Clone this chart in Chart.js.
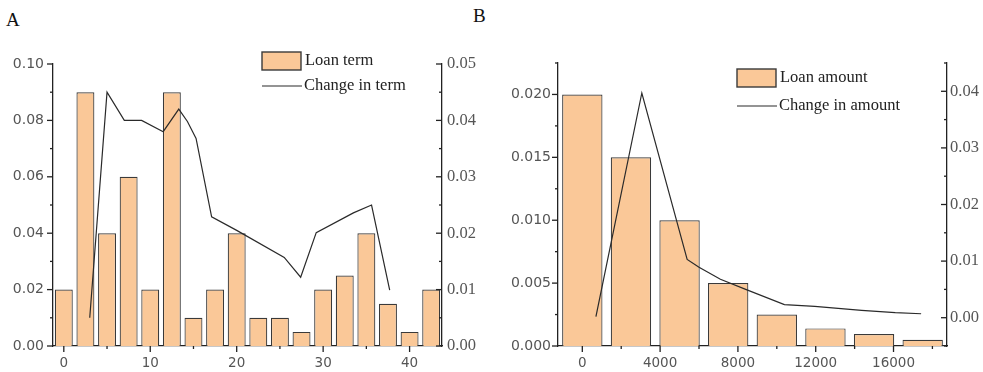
<!DOCTYPE html>
<html>
<head>
<meta charset="utf-8">
<script src="https://cdn.jsdelivr.net/npm/chart.js@4.4.1/dist/chart.umd.min.js"></script>
<style>
  body { margin: 0; background: #fff; width: 983px; height: 372px; overflow: hidden; position: relative; }
  canvas { position: absolute; top: 0; }
  .lbl { position: absolute; font-family: "Liberation Serif", serif; font-size: 19px; color: #111; }
</style>
</head>
<body>
<div class="lbl" style="left:6px;top:9px;">A</div>
<div class="lbl" style="left:473px;top:5px;">B</div>
<canvas id="termChart" width="490" height="372" style="left:0px"></canvas>
<canvas id="amountChart" width="493" height="372" style="left:490px"></canvas>
<script>
// panel A - loan term
var termX = [0, 2.5, 5, 7.5, 10, 12.5, 15, 17.5, 20, 22.5, 25, 27.5, 30, 32.5, 35, 37.5, 40, 42.5];
var termFreq = [0.02, 0.09, 0.04, 0.06, 0.02, 0.09, 0.01, 0.02, 0.04, 0.01, 0.01, 0.005, 0.02, 0.025, 0.04, 0.015, 0.005, 0.02];
var termChangeX = [3, 5, 7, 9, 11.5, 13.3, 14.3, 15.3, 17.1, 20, 25.5, 27.4, 29.2, 33.5, 35.6, 37.7];
var termChange = [0.005, 0.045, 0.040, 0.040, 0.038, 0.042, 0.0398, 0.0368, 0.0229, 0.0205, 0.0157, 0.0122, 0.0201, 0.0236, 0.025, 0.0099];
var termXTicks = [0, 10, 20, 30, 40];
var termYTicks = [0, 0.02, 0.04, 0.06, 0.08, 0.10];
var termY2Ticks = [0, 0.01, 0.02, 0.03, 0.04, 0.05];

// panel B - loan amount
var amountX = [0, 2500, 5000, 7500, 10000, 12500, 15000, 17500];
var amountFreq = [0.020, 0.015, 0.010, 0.005, 0.0025, 0.0014, 0.00095, 0.0005];
var amountChangeX = [700, 3060, 5390, 6000, 7100, 8400, 10390, 11950, 14360, 16090, 17420];
var amountChange = [0.0002, 0.0397, 0.0103, 0.0089, 0.0068, 0.005, 0.0023, 0.002, 0.0013, 0.0009, 0.0007];
var amountXTicks = [0, 4000, 8000, 12000, 16000];
var amountYTicks = [0, 0.005, 0.010, 0.015, 0.020];
var amountY2Ticks = [0, 0.01, 0.02, 0.03, 0.04];

var barFill = '#FAC898';
var barEdge = '#3a3a3a';
var lineCol = '#2a2a2a';
var tickCol = '#555';

function pairs(xs, ys) {
  var out = [];
  for (var i = 0; i < xs.length; i++) out.push({x: xs[i], y: ys[i]});
  return out;
}

// major + minor tick marks (majors from the scale, minors half way between)
var tickMarks = {
  id: 'tickMarks',
  afterDraw: function (chart) {
    var ctx = chart.ctx;
    ctx.save();
    ctx.strokeStyle = '#222';
    ctx.lineWidth = 1.3;
    ['x', 'y', 'y2'].forEach(function (id) {
      var s = chart.scales[id];
      var vals = s.options.majorVals;
      var step = vals[1] - vals[0];
      var marks = [];
      vals.forEach(function (v) { marks.push([v, 6]); });
      for (var v = vals[0] - step / 2; v <= s.max + 1e-9; v += step) {
        if (v >= s.min - 1e-9) marks.push([v, 3]);
      }
      marks.forEach(function (m) {
        var p = s.getPixelForValue(m[0]);
        ctx.beginPath();
        if (id === 'x') {
          ctx.moveTo(p, s.top); ctx.lineTo(p, s.top + m[1]);
        } else if (id === 'y') {
          ctx.moveTo(s.right, p); ctx.lineTo(s.right - m[1], p);
        } else {
          ctx.moveTo(s.left, p); ctx.lineTo(s.left - m[1], p);
        }
        ctx.stroke();
      });
    });
    ctx.restore();
  }
};

// legend drawn inside the plot
var boxLegend = {
  id: 'boxLegend',
  afterDraw: function (chart, args, o) {
    var ctx = chart.ctx;
    ctx.save();
    ctx.fillStyle = barFill;
    ctx.strokeStyle = barEdge;
    ctx.lineWidth = 1.4;
    ctx.fillRect(o.x, o.y, 39, 18);
    ctx.strokeRect(o.x, o.y, 39, 18);
    ctx.beginPath();
    ctx.strokeStyle = lineCol;
    ctx.lineWidth = 1.2;
    ctx.moveTo(o.x, o.y + o.gap + 9);
    ctx.lineTo(o.x + 40, o.y + o.gap + 9);
    ctx.stroke();
    ctx.fillStyle = '#222';
    ctx.font = '16.5px "Liberation Serif"';
    ctx.textBaseline = 'middle';
    ctx.fillText(o.labels[0], o.x + 43, o.y + 9);
    ctx.fillText(o.labels[1], o.x + 42, o.y + o.gap + 9);
    ctx.restore();
  }
};

function fixedTicks(list) {
  return function (scale) { scale.ticks = list.map(function (v) { return {value: v}; }); };
}

function makeChart(el, cfg) {
  return new Chart(document.getElementById(el).getContext('2d'), {
    type: 'bar',
    data: {
      datasets: [
        {
          type: 'line', label: cfg.labels[1], data: pairs(cfg.lx, cfg.ly), yAxisID: 'y2',
          borderColor: lineCol, borderWidth: 1.2, pointRadius: 0, tension: 0, order: 0
        },
        {
          type: 'bar', label: cfg.labels[0], data: pairs(cfg.bx, cfg.by), yAxisID: 'y',
          backgroundColor: barFill, borderColor: barEdge, borderWidth: 1.2,
          barPercentage: 0.83, categoryPercentage: 1, order: 1
        }
      ]
    },
    options: {
      responsive: false,
      animation: false,
      layout: { padding: { top: cfg.top, left: 0, right: 0, bottom: 0 } },
      plugins: {
        legend: { display: false },
        tooltip: { enabled: false },
        boxLegend: { x: cfg.legX, y: cfg.legY, gap: cfg.legGap, labels: cfg.labels }
      },
      scales: {
        x: {
          type: 'linear', min: cfg.xMin, max: cfg.xMax, offset: false,
          majorVals: cfg.xTicks,
          afterBuildTicks: fixedTicks(cfg.xTicks),
          afterFit: function (s) { s.height = 26; },
          grid: { display: false, drawTicks: false },
          border: { display: true, color: '#222', width: 1.3 },
          ticks: {
            padding: 9, color: tickCol, font: { family: 'DejaVu Sans', size: 13.5 }, maxRotation: 0,
            callback: function (v) { return String(v); }
          }
        },
        y: {
          position: 'left', min: cfg.yMin, max: cfg.yMax,
          majorVals: cfg.yTicks,
          afterBuildTicks: fixedTicks(cfg.yTicks),
          afterFit: function (s) { s.width = cfg.leftW; },
          grid: { display: false, drawTicks: false },
          border: { display: true, color: '#222', width: 1.3 },
          ticks: {
            padding: cfg.leftPad, color: tickCol, font: { family: 'DejaVu Sans', size: 14 },
            callback: function (v) { return v.toFixed(cfg.yDec); }
          }
        },
        y2: {
          position: 'right', min: cfg.y2Min, max: cfg.y2Max,
          majorVals: cfg.y2Ticks,
          afterBuildTicks: fixedTicks(cfg.y2Ticks),
          afterFit: function (s) { s.width = cfg.rightW; },
          grid: { display: false, drawTicks: false },
          border: { display: true, color: '#222', width: 1.3 },
          ticks: {
            padding: cfg.rightPad, color: tickCol, font: { family: 'Liberation Serif', size: 16.5 },
            callback: function (v) { return v.toFixed(2); }
          }
        }
      }
    },
    plugins: [tickMarks, boxLegend]
  });
}

makeChart('termChart', {
  bx: termX, by: termFreq, lx: termChangeX, ly: termChange,
  labels: ['Loan term', 'Change in term'],
  xMin: -1.25, xMax: 43.75, xTicks: termXTicks,
  yMin: 0, yMax: 0.1, yTicks: termYTicks, yDec: 2,
  y2Min: 0, y2Max: 0.05, y2Ticks: termY2Ticks,
  top: 64, leftW: 53, rightW: 48, leftPad: 9, rightPad: 5,
  legX: 262, legY: 52, legGap: 25
});

makeChart('amountChart', {
  bx: amountX, by: amountFreq, lx: amountChangeX, ly: amountChange,
  labels: ['Loan amount', 'Change in amount'],
  xMin: -1250, xMax: 18750, xTicks: amountXTicks,
  yMin: 0, yMax: 0.0225, yTicks: amountYTicks, yDec: 3,
  y2Min: -0.005, y2Max: 0.045, y2Ticks: amountY2Ticks,
  top: 63, leftW: 68, rightW: 36, leftPad: 7, rightPad: 3,
  legX: 247, legY: 69, legGap: 28
});
</script>
</body>
</html>
